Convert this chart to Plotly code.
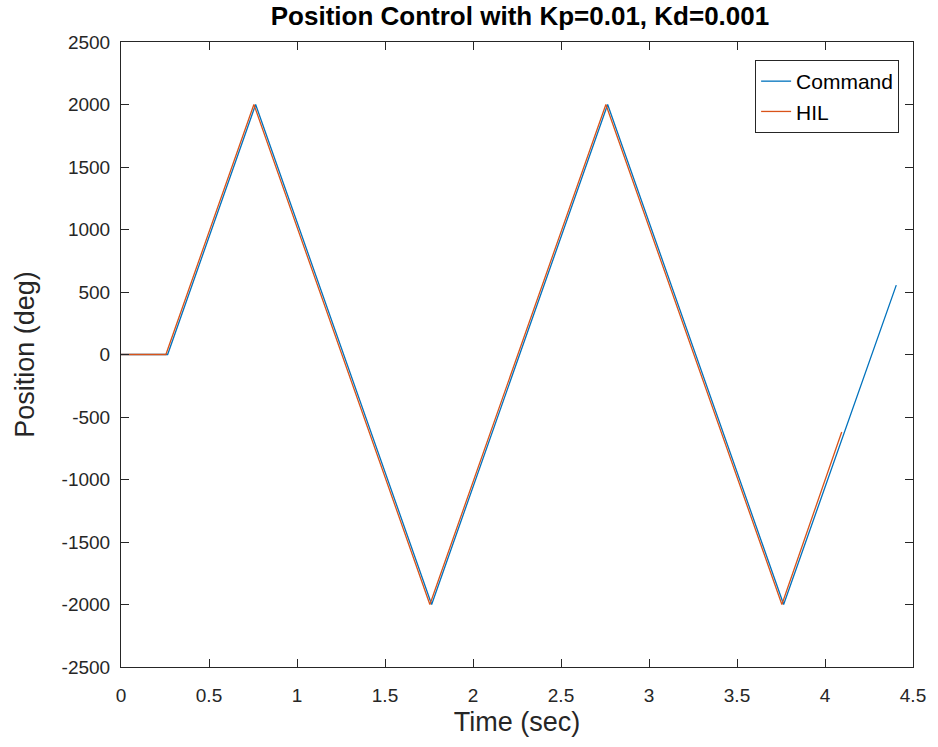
import plotly.graph_objects as go

# Commanded triangle-wave trajectory (time in s, position in deg)
cmd_time = [0.0, 0.265, 0.765, 1.765, 2.765, 3.765, 4.405]
cmd_pos = [0, 0, 2000, -2000, 2000, -2000, 555]

# Hardware-in-the-loop measured response
hil_time = [0.0, 0.255, 0.755, 1.755, 2.755, 3.755, 4.095]
hil_pos = [0, 0, 2000, -2000, 2000, -2000, -620]

x_ticks = [0, 0.5, 1, 1.5, 2, 2.5, 3, 3.5, 4, 4.5]
y_ticks = [-2500, -2000, -1500, -1000, -500, 0, 500, 1000, 1500, 2000, 2500]

FONT = "Liberation Sans, Arial, sans-serif"
AXIS_COLOR = "#262626"

fig = go.Figure()
fig.add_trace(go.Scatter(x=cmd_time, y=cmd_pos, mode="lines", name="Command",
                         line=dict(color="#0072BD", width=1.3)))
fig.add_trace(go.Scatter(x=hil_time, y=hil_pos, mode="lines", name="HIL",
                         line=dict(color="#D95319", width=1.3)))

axis_common = dict(
    showgrid=False, zeroline=False, showline=True, mirror="ticks",
    linecolor=AXIS_COLOR, linewidth=1, ticks="inside", ticklen=8,
    tickcolor=AXIS_COLOR, tickwidth=1,
    tickfont=dict(family=FONT, size=19, color=AXIS_COLOR),
)

fig.update_layout(
    width=938, height=747,
    margin=dict(l=121, r=19, t=42, b=80),
    paper_bgcolor="white", plot_bgcolor="white",
    title=dict(text="<b>Position Control with Kp=0.01, Kd=0.001</b>",
               x=(121 + 919) / 2 / 938, xanchor="center",
               y=1 - 16 / 747, yanchor="middle",
               font=dict(family=FONT, size=26, color="black")),
    xaxis=dict(axis_common, range=[0, 4.5], tickvals=x_ticks,
               ticktext=[f"{v:g}" for v in x_ticks],
               ticklabelstandoff=11,
               title=dict(text="Time (sec)", standoff=7,
                          font=dict(family=FONT, size=27, color=AXIS_COLOR))),
    yaxis=dict(axis_common, range=[-2500, 2500], tickvals=y_ticks,
               ticktext=[f"{v:g}" for v in y_ticks],
               ticklabelstandoff=6,
               title=dict(text="Position (deg)", standoff=19,
                          font=dict(family=FONT, size=27, color=AXIS_COLOR))),
    legend=dict(x=(905 - 121) / 798, xanchor="right",
                y=(667 - 60) / 625, yanchor="top",
                bgcolor="white", bordercolor=AXIS_COLOR, borderwidth=1,
                font=dict(family=FONT, size=21, color="black"),
                tracegroupgap=0, itemwidth=30),
    showlegend=True,
)

fig.write_html("out.html")
